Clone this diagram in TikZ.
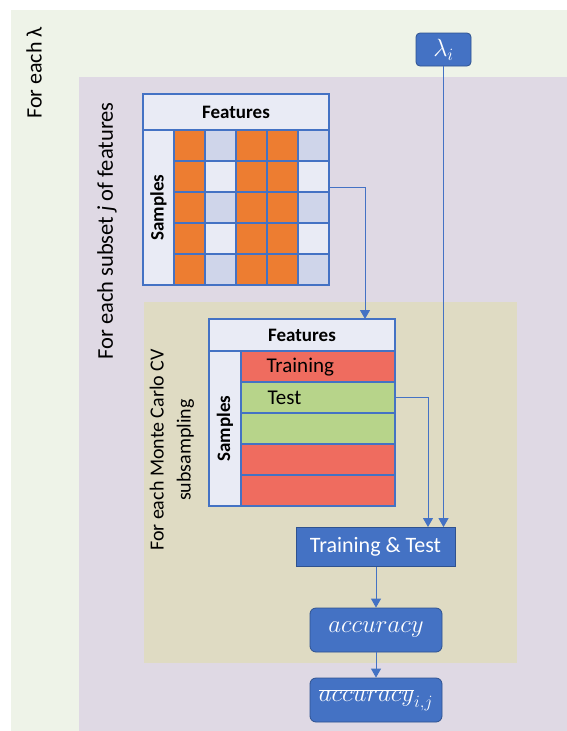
\documentclass[tikz,border=0pt]{standalone}
\usepackage{fontspec}
\setmainfont{Carlito}
\usetikzlibrary{arrows.meta}

\definecolor{bgGreen}{HTML}{EEF3E8}
\definecolor{bgPurple}{HTML}{DFD9E4}
\definecolor{bgTan}{HTML}{DFDBC3}
\definecolor{accBlue}{HTML}{4472C4}
\definecolor{boxEdge}{HTML}{2F528F}
\definecolor{cellOrange}{HTML}{ED7D31}
\definecolor{cellDark}{HTML}{CFD5EA}
\definecolor{cellLight}{HTML}{E9EBF5}
\definecolor{rowRed}{HTML}{EF6C5F}
\definecolor{rowGreen}{HTML}{B7D48A}

\begin{document}
\begin{tikzpicture}[x = 1pt, y = -1pt, line join = miter,
  grid/.style = {draw = accBlue, line width = 1.3pt},
  frame/.style = {grid, minimum width = #1, inner sep = 0pt},
  box/.style = {draw = boxEdge, fill = accBlue, text = white, inner sep = 0pt, line width = 0.8pt},
  label/.style = {rotate = 90, inner sep = 0pt},
  head/.style = {font = \fontsize{19}{22}\selectfont\bfseries},
  rowtxt/.style = {anchor = west, font = \fontsize{21}{24}\selectfont},
  link/.style = {draw = accBlue, line width = 0.9pt, -{Triangle[width = 10pt, length = 9pt]}}]

\useasboundingbox (0, 0) rectangle (567, 731);

% nested loops as background areas
\fill[color = white] (0, 0) rectangle (567, 731);
\fill[color = bgGreen] (11, 10) rectangle (567, 731);
\fill[color = bgPurple] (79, 77) rectangle (567, 731);
\fill[color = bgTan] (144, 302) rectangle (517, 663);

\node[label, font = \fontsize{22}{26}\selectfont] (loopLam) at (34, 73) {For each λ};
\node[label, font = \fontsize{22.5}{26}\selectfont] (loopSub) at (107, 231) {For each subset \textit{j} of features};
\node[label, align = center, font = \fontsize{20}{27}\selectfont] (loopMC) at (172, 450) {For each Monte Carlo CV\\subsampling};

% full data matrix
\draw[grid, fill = cellLight] (143, 94) rectangle (329, 130);
\draw[grid, fill = cellLight] (143, 130) rectangle (174, 285);
\node[head] (hdrA) at (236, 112) {Features};
\node[head, rotate = 90] (smpA) at (158.5, 207.5) {Samples};

\draw[grid, fill = cellOrange] (174, 130) rectangle (205, 161);
\draw[grid, fill = cellDark] (205, 130) rectangle (236, 161);
\draw[grid, fill = cellOrange] (236, 130) rectangle (267, 161);
\draw[grid, fill = cellOrange] (267, 130) rectangle (298, 161);
\draw[grid, fill = cellDark] (298, 130) rectangle (329, 161);

\draw[grid, fill = cellOrange] (174, 161) rectangle (205, 192);
\draw[grid, fill = cellLight] (205, 161) rectangle (236, 192);
\draw[grid, fill = cellOrange] (236, 161) rectangle (267, 192);
\draw[grid, fill = cellOrange] (267, 161) rectangle (298, 192);
\draw[grid, fill = cellLight] (298, 161) rectangle (329, 192);

\draw[grid, fill = cellOrange] (174, 192) rectangle (205, 223);
\draw[grid, fill = cellDark] (205, 192) rectangle (236, 223);
\draw[grid, fill = cellOrange] (236, 192) rectangle (267, 223);
\draw[grid, fill = cellOrange] (267, 192) rectangle (298, 223);
\draw[grid, fill = cellDark] (298, 192) rectangle (329, 223);

\draw[grid, fill = cellOrange] (174, 223) rectangle (205, 254);
\draw[grid, fill = cellLight] (205, 223) rectangle (236, 254);
\draw[grid, fill = cellOrange] (236, 223) rectangle (267, 254);
\draw[grid, fill = cellOrange] (267, 223) rectangle (298, 254);
\draw[grid, fill = cellLight] (298, 223) rectangle (329, 254);

\draw[grid, fill = cellOrange] (174, 254) rectangle (205, 285);
\draw[grid, fill = cellDark] (205, 254) rectangle (236, 285);
\draw[grid, fill = cellOrange] (236, 254) rectangle (267, 285);
\draw[grid, fill = cellOrange] (267, 254) rectangle (298, 285);
\draw[grid, fill = cellDark] (298, 254) rectangle (329, 285);

\node[frame = 186pt, minimum height = 191pt] (matA) at (236, 189.5) {};

% subset matrix split in training and test rows
\draw[grid, fill = cellLight] (209, 319) rectangle (395, 351);
\draw[grid, fill = cellLight] (209, 351) rectangle (241, 506);
\node[head] (hdrB) at (302, 335) {Features};
\node[head, rotate = 90] (smpB) at (225, 428.5) {Samples};

\node[frame = 154pt, minimum height = 31pt, fill = rowRed] (rowA) at (318, 366.5) {};
\node[frame = 154pt, minimum height = 31pt, fill = rowGreen] (rowB) at (318, 397.5) {};
\node[frame = 154pt, minimum height = 31pt, fill = rowGreen] (rowC) at (318, 428.5) {};
\node[frame = 154pt, minimum height = 31pt, fill = rowRed] (rowD) at (318, 459.5) {};
\node[frame = 154pt, minimum height = 31pt, fill = rowRed] (rowE) at (318, 490.5) {};
\node[rowtxt] (trainTxt) at (263, 367) {Training};
\node[rowtxt] (testTxt) at (264, 398) {Test};

\node[frame = 186pt, minimum height = 187pt] (matB) at (302, 412.5) {};

% model boxes
\node[box, rounded corners = 4pt, minimum width = 55pt, minimum height = 33pt,
      font = \fontsize{26}{30}\selectfont] (lam) at (443.5, 49.5) {$\lambda_i$};
\node[box, minimum width = 159pt, minimum height = 39pt,
      font = \fontsize{22}{26}\selectfont] (tt) at (375.5, 547) {Training \& Test};
\node[box, rounded corners = 6pt, minimum width = 132pt, minimum height = 44pt,
      font = \fontsize{25}{28}\selectfont] (acc) at (376, 630) {$accuracy$};
\node[box, rounded corners = 6pt, minimum width = 132pt, minimum height = 44pt,
      font = \fontsize{24}{28}\selectfont] (accMean) at (376, 700) {$\overline{accuracy}_{i,j}$};

\coordinate (outA) at (329, 187);
\coordinate (inB) at (365, 319);
\coordinate (ttIn) at (428, 527);

\draw[link] (outA) -| (inB);
\draw[link] (rowB.east) -| (ttIn);
\draw[link] (lam.south) -- (lam.south |- tt.north);
\draw[link] (tt.south -| acc.north) -- (acc.north);
\draw[link] (acc.south) -- (accMean.north);

\end{tikzpicture}
\end{document}
